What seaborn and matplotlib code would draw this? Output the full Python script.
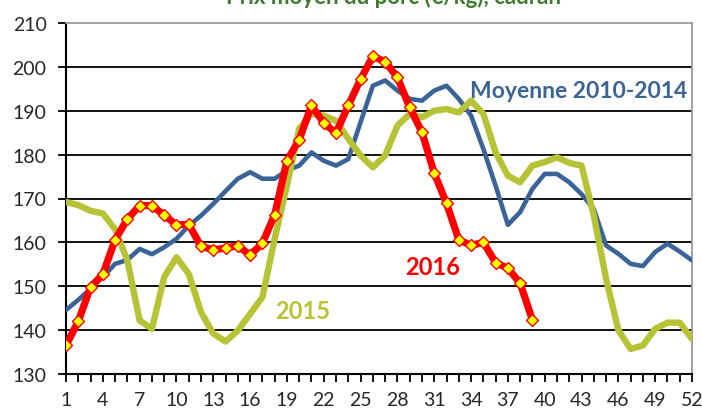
import seaborn as sns
import matplotlib.pyplot as plt

weeks = list(range(1, 53))

moyenne = [144.6, 146.9, 149.4, 152.1, 155.1, 156.0, 158.5, 157.3, 158.9, 160.8,
           163.8, 166.1, 168.8, 171.7, 174.5, 176.0, 174.5, 174.5, 176.4, 177.5,
           180.5, 178.6, 177.5, 179.0, 187.4, 195.7, 196.9, 194.6, 192.7, 192.3,
           194.6, 195.7, 192.7, 188.9, 181.3, 172.9, 164.0, 166.9, 172.2, 175.6,
           175.6, 173.7, 171.0, 167.6, 159.3, 157.4, 155.1, 154.6, 157.8, 159.7,
           157.9, 155.9]

y2015 = [169.2, 168.5, 167.2, 166.6, 163.0, 155.9, 142.2, 140.3, 152.1, 156.6,
         152.8, 144.1, 139.2, 137.4, 139.9, 143.7, 147.5, 160.8, 173.0, 185.9,
         189.3, 188.9, 187.7, 183.6, 179.8, 177.1, 179.8, 186.6, 189.3, 188.5,
         190.0, 190.4, 189.6, 192.3, 189.3, 180.5, 175.2, 173.7, 177.5, 178.3,
         179.4, 178.1, 177.5, 166.1, 151.7, 140.0, 135.7, 136.5, 140.3, 141.7,
         141.7, 138.0]

y2016 = [136.5, 142.0, 149.8, 152.7, 160.6, 165.3, 168.4, 168.4, 166.2, 164.0,
         164.1, 159.1, 158.3, 158.7, 159.2, 157.1, 159.8, 166.3, 178.6, 183.4,
         191.2, 187.2, 184.9, 191.2, 197.2, 202.4, 201.2, 197.6, 190.8, 185.1,
         175.8, 168.9, 160.6, 159.3, 160.0, 155.4, 154.1, 150.7, 142.3]

x_labels = list(range(1, 53, 3))
y_ticks = list(range(130, 211, 10))

col_moy = "#3A6497"
col_2015 = "#B5C334"
col_2016 = "#FF0000"

sns.set_style("white")
plt.rcParams['font.family'] = ['Lato', 'DejaVu Sans']

fig = plt.figure(figsize=(7.02, 4.14), dpi=100)
ax = fig.add_axes([66 / 702, 1 - 375 / 414, (692 - 66) / 702, (375 - 24) / 414])

# grid
for v in y_ticks[1:-1]:
    ax.axhline(v, color="black", lw=1.3, zorder=1)

sns.lineplot(x=weeks, y=moyenne, ax=ax, color=col_moy, lw=3.3, zorder=3)
sns.lineplot(x=weeks, y=y2015, ax=ax, color=col_2015, lw=4.6, zorder=4)
sns.lineplot(x=weeks[:len(y2016)], y=y2016, ax=ax, color=col_2016, lw=5.2,
             marker="D", markersize=6.5, markerfacecolor="#FFFF00",
             markeredgecolor=col_2016, markeredgewidth=1.0, zorder=5)

ax.set_xlim(1, 52)
ax.set_ylim(130, 210)
ax.set_yticks(y_ticks)
ax.set_xticks(weeks)
ax.set_xticklabels([str(w) if w in x_labels else "" for w in weeks])
ax.tick_params(axis="both", direction="out", length=6, width=1.3, color="black",
               labelsize=14, pad=5)
ax.tick_params(axis="y", pad=8)
ax.tick_params(axis="x", pad=6)
ax.xaxis.set_ticks_position("bottom")
ax.yaxis.set_ticks_position("left")

for s in ["left", "bottom"]:
    ax.spines[s].set_color("black")
    ax.spines[s].set_linewidth(1.5)
for s in ["top", "right"]:
    ax.spines[s].set_color("#9A9A9A")
    ax.spines[s].set_linewidth(1.3)

ax.text(42.8, 194.6, "Moyenne 2010-2014", color=col_moy, fontsize=16.5,
        fontweight="bold", ha="center", va="center", zorder=6)
ax.text(30.9, 154.4, "2016", color=col_2016, fontsize=17,
        fontweight="bold", ha="center", va="center", zorder=6)
ax.text(20.3, 144.5, "2015", color=col_2015, fontsize=17,
        fontweight="bold", ha="center", va="center", zorder=6)

# title, mostly cut off at the top edge as in the source image
fig.text(0.56, 1 - 4 / 414, "Prix moyen du porc (€/kg), cadran", color="#3C7A2C",
         fontsize=16, fontweight="bold", ha="center", va="baseline")

plt.savefig("out.png")
